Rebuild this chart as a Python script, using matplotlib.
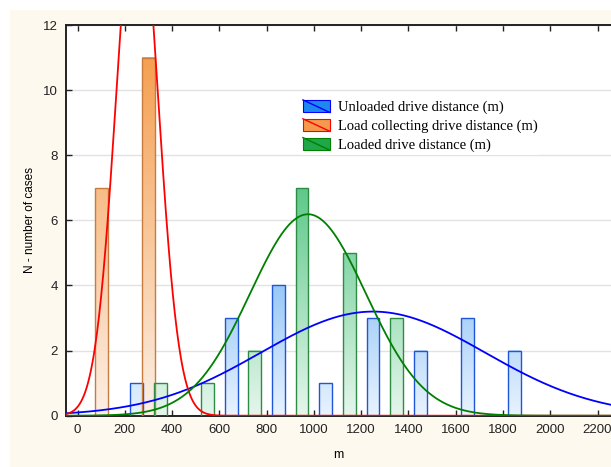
import numpy as np
import matplotlib.pyplot as plt
from matplotlib.colors import LinearSegmentedColormap
from matplotlib.patches import Rectangle
from matplotlib.lines import Line2D
from matplotlib.legend_handler import HandlerBase

plt.rcParams['font.family'] = ['Liberation Sans', 'DejaVu Sans']

# bar positions (m) and counts
unloaded_x = [250, 650, 850, 1050, 1250, 1450, 1650, 1850]
unloaded_n = [1, 3, 4, 1, 3, 2, 3, 2]
collect_x = [100, 300]
collect_n = [7, 11]
loaded_x = [350, 550, 750, 950, 1150, 1350]
loaded_n = [1, 1, 2, 7, 5, 3]

# fitted normal curves: (mean, sd, N * bin width)
unloaded_fit = (1250, 474, 19 * 200)
collect_fit = (252, 88, 18 * 200)
loaded_fit = (975, 245, 19 * 200)

labels = ['Unloaded drive distance (m)',
          'Load collecting drive distance (m)',
          'Loaded drive distance (m)']

series = [
    # x, n, fit, bottom col, top col, ref height, edge, line col, legend fill
    (unloaded_x, unloaded_n, unloaded_fit, '#e8f3fe', '#99c8f7', 4, '#1f55d8', '#0000ff', '#1e88f0'),
    (collect_x, collect_n, collect_fit, '#fcefe5', '#f5a052', 11, '#c97b3e', '#ff0000', '#f59a4c'),
    (loaded_x, loaded_n, loaded_fit, '#e5f6ec', '#5fc98a', 7, '#2e8b45', '#008000', '#1fa84a'),
]

fig = plt.figure(figsize=(6.11, 4.67), dpi=100)
fig.patch.set_facecolor('white')
fig.add_artist(Rectangle((10 / 611, 0), 1, 1 - 10 / 467, transform=fig.transFigure,
                         facecolor='#fdf9ef', edgecolor='none', zorder=-10))

ax = fig.add_axes([65.7 / 611, 1 - 415.7 / 467, 1 - 65.7 / 611, (415.7 - 25) / 467])
ax.set_facecolor('white')

width = 54
for xs, ns, fit, c0, c1, ref, edge, lc, _ in series:
    cmap = LinearSegmentedColormap.from_list('g', [c0, c1])
    for x, n in zip(xs, ns):
        grad = np.linspace(0, n, 100).reshape(-1, 1)
        ax.imshow(grad, extent=(x - width / 2, x + width / 2, 0, n), origin='lower',
                  cmap=cmap, vmin=0, vmax=ref, aspect='auto', zorder=2)
        ax.add_patch(Rectangle((x - width / 2, 0), width, n, facecolor='none',
                               edgecolor=edge, lw=1.0, zorder=3))

xx = np.linspace(-50, 2300, 800)
for xs, ns, fit, c0, c1, ref, edge, lc, _ in series:
    mu, sd, area = fit
    yy = area / (sd * np.sqrt(2 * np.pi)) * np.exp(-(xx - mu) ** 2 / (2 * sd ** 2))
    ax.plot(xx, yy, color=lc, lw=1.3, zorder=4)

ax.set_xlim(-50, 2257)
ax.set_ylim(0, 12)
ax.set_xticks(np.arange(0, 2201, 200))
ax.set_yticks(np.arange(0, 13, 2))
ax.grid(axis='y', color='#e2e2e2', lw=1.0, zorder=0)
ax.set_axisbelow(True)
ax.tick_params(direction='in', length=4, width=1, top=True, right=False,
               labelsize=9.5, colors='#222222')
ax.tick_params(axis='y', pad=5.5)
ax.tick_params(axis='x', pad=6)
ax.spines['right'].set_visible(False)
for s in ['left', 'top', 'bottom']:
    ax.spines[s].set_linewidth(1.4)
    ax.spines[s].set_color('#222222')
ax.set_xlabel('m', fontsize=9, labelpad=9)
ax.set_ylabel('N - number of cases', fontsize=8.5, labelpad=5)


class DiagHandler(HandlerBase):
    def __init__(self, fill, line):
        super().__init__()
        self.fill = fill
        self.line = line

    def create_artists(self, legend, orig_handle, xdescent, ydescent, width, height, fontsize, trans):
        r = Rectangle((-xdescent, -ydescent), width, height, facecolor=self.fill,
                      edgecolor=self.line, lw=0.8, transform=trans)
        l = Line2D([-xdescent, -xdescent + width], [-ydescent + height, -ydescent],
                   color=self.line, lw=1.0, transform=trans)
        return [r, l]


handles = [Rectangle((0, 0), 1, 1) for _ in series]
hmap = {h: DiagHandler(s[8], s[7]) for h, s in zip(handles, series)}
leg = ax.legend(handles, labels, handler_map=hmap, loc='upper left',
                bbox_to_anchor=(300 / 611, 1 - 97 / 467), bbox_transform=fig.transFigure,
                frameon=True, facecolor='white', edgecolor='none', framealpha=1,
                prop={'family': 'Liberation Serif', 'size': 10.5},
                handlelength=1.85, handleheight=0.95, handletextpad=0.55,
                labelspacing=0.3, borderpad=0.2, borderaxespad=0)
leg.set_zorder(6)

fig.savefig('out.png', dpi=100)
